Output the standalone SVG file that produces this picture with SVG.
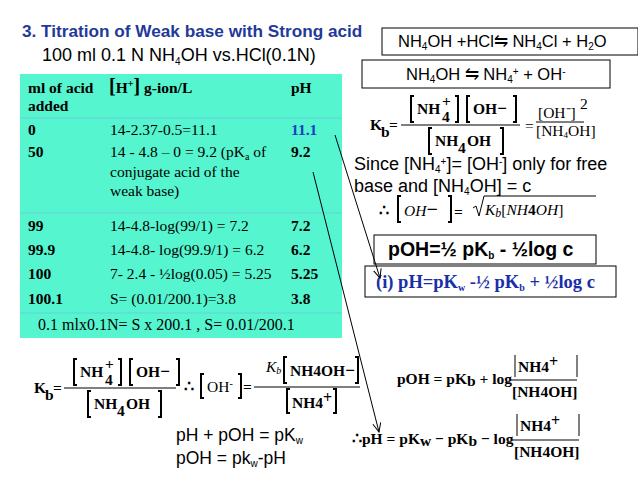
<svg xmlns="http://www.w3.org/2000/svg" width="638" height="479" viewBox="0 0 638 479">
<defs>
<marker id="ah" markerWidth="10" markerHeight="10" refX="9" refY="5" orient="auto" markerUnits="userSpaceOnUse"><path d="M0,1 L9,5 L0,9" fill="none" stroke="#000" stroke-width="1"/></marker>
</defs>
<style>
.a{font-family:"Liberation Sans",Arial,sans-serif;font-size:17px;fill:#000}
.s{font-family:"Liberation Serif","Times New Roman",serif;font-size:15.5px;fill:#000}
.b{font-weight:bold}
.box{fill:#fff;stroke:#000;stroke-width:1}
.br{fill:none;stroke:#000;stroke-width:2}
.ln{fill:none;stroke:#000;stroke-width:1}
.sub{font-size:10px}
</style>
<rect width="638" height="479" fill="#fff"/>
<g id="title">
<text x="22" y="37" class="a b" style="fill:#1f3a9a;font-size:17.2px">3. Titration of Weak base with Strong acid</text>
<text x="42" y="61" class="a" style="font-size:18px">100 ml 0.1 N NH<tspan class="sub" dy="4">4</tspan><tspan dy="-4">OH vs.HCl(0.1N)</tspan></text>
</g>
<g id="table">
<rect x="20" y="74" width="322" height="264" fill="#55f5cf"/>
<line x1="20" y1="118" x2="342" y2="118" stroke="#7ad" stroke-width="0.5"/>
<line x1="20" y1="213" x2="342" y2="213" stroke="#7ad" stroke-width="0.5"/>
<line x1="20" y1="313" x2="342" y2="313" stroke="#7ad" stroke-width="0.5"/>
<text x="28" y="93" class="s b">ml of acid</text>
<text x="28" y="111" class="s b">added</text>
<text x="109" y="93" class="s b"><tspan font-size="20">[</tspan>H<tspan class="sub" dy="-6">+</tspan><tspan dy="6" font-size="20">]</tspan>  g-ion/L</text>
<text x="291" y="93" class="s b">pH</text>
<text x="28" y="135" class="s b">0</text><text x="110" y="135" class="s">14-2.37-0.5=11.1</text><text x="291" y="135" class="s b" style="fill:#1a3fbf">11.1</text>
<text x="28" y="157" class="s b">50</text><text x="110" y="157" class="s">14 - 4.8 – 0 = 9.2 (pK<tspan class="sub" dy="3">a</tspan><tspan dy="-3"> of</tspan></text><text x="291" y="157" class="s b">9.2</text>
<text x="110" y="177" class="s">conjugate acid of the</text>
<text x="110" y="196" class="s">weak base)</text>
<text x="28" y="231" class="s b">99</text><text x="110" y="231" class="s">14-4.8-log(99/1)  = 7.2</text><text x="291" y="231" class="s b">7.2</text>
<text x="28" y="255" class="s b">99.9</text><text x="110" y="255" class="s">14-4.8- log(99.9/1) = 6.2</text><text x="291" y="255" class="s b">6.2</text>
<text x="28" y="279" class="s b">100</text><text x="110" y="279" class="s">7- 2.4 - ½log(0.05) = 5.25</text><text x="291" y="279" class="s b">5.25</text>
<text x="28" y="304" class="s b">100.1</text><text x="110" y="304" class="s">S= (0.01/200.1)=3.8</text><text x="291" y="304" class="s b">3.8</text>
<text x="38" y="330" class="s" style="font-size:16px">0.1 mlx0.1N= S x 200.1 , S= 0.01/200.1</text>
</g>
<g id="eq1">
<rect x="382" y="28" width="256" height="27" class="box"/>
<text x="398" y="47" class="a" style="font-size:16.5px">NH<tspan class="sub" dy="3">4</tspan><tspan dy="-3">OH +HCl⇋ NH</tspan><tspan class="sub" dy="3">4</tspan><tspan dy="-3">Cl + H</tspan><tspan class="sub" dy="3">2</tspan><tspan dy="-3">O</tspan></text>
</g>
<g id="eq2">
<rect x="362" y="60" width="248" height="28" class="box"/>
<text x="406" y="80" class="a" style="font-size:16.5px">NH<tspan class="sub" dy="3">4</tspan><tspan dy="-3">OH ⇋ NH</tspan><tspan class="sub" dy="3">4</tspan><tspan class="sub" dy="-8">+</tspan><tspan dy="5"> + OH</tspan><tspan class="sub" dy="-5">-</tspan></text>
</g>
<g id="kb1">
<text x="370" y="130" class="s b" font-size="15">K</text><text x="381" y="137" class="s b" font-size="11">b</text>
<text x="389" y="130" class="s b">=</text>
<path class="br" d="M414,96 h-3 v26 h3 M455,96 h3 v26 h-3 M470,96 h-3 v26 h3 M513,96 h3 v26 h-3"/>
<text x="417" y="114" class="s b" font-size="14">NH</text><text x="442" y="106" class="s b" font-size="17">+</text><text x="442" y="122" class="s b" font-size="11">4</text>
<text x="473" y="114" class="s b" font-size="14">OH<tspan font-size="17">−</tspan></text>
<line x1="401" y1="125" x2="520" y2="125" class="ln" stroke-width="1.5"/>
<path class="br" d="M432,128 h-3 v26 h3 M500,128 h3 v26 h-3"/>
<text x="435" y="146" class="s b" font-size="14">NH</text><text x="458" y="153" class="s b" font-size="11">4</text><text x="467" y="146" class="s b" font-size="14">OH</text>
<text x="525" y="131" class="s" font-size="10" fill="#555">=</text>
<text x="538" y="118" class="s" font-size="11">[OH⁻]</text><text x="580" y="109" class="s" font-size="10">2</text>
<line x1="536" y1="122" x2="584" y2="122" class="ln" stroke-width="0.6"/>
<text x="536" y="136" class="s" font-size="11">[NH<tspan font-size="9" dy="2">4</tspan><tspan dy="-2">OH]</tspan></text>
</g>
<g id="since">
<text x="354" y="170" class="a" style="font-size:18px">Since [NH<tspan class="sub" dy="3">4</tspan><tspan class="sub" dy="-8">+</tspan><tspan dy="5">]= [OH</tspan><tspan class="sub" dy="-5">-</tspan><tspan dy="5">] only for free</tspan></text>
<text x="354" y="192" class="a" style="font-size:18px">base and [NH<tspan class="sub" dy="3">4</tspan><tspan dy="-3">OH] = c</tspan></text>
<text x="379" y="216" class="s b" font-size="22">∴</text>
<path class="br" d="M401,196 h-3 v26 h3 M448,196 h3 v26 h-3"/>
<text x="404" y="216" class="s" font-style="italic" font-size="16">OH<tspan font-size="20" font-style="normal" font-weight="bold">−</tspan></text>
<text x="454" y="217" class="s b" font-size="20">=</text>
<path d="M473,208 l3,-2 l3,10 l5,-20 h112" class="ln"/>
<text x="485" y="215" class="s" font-style="italic" font-size="16">K<tspan font-size="12" dy="2">b</tspan><tspan dy="-2" font-style="normal">[</tspan>NH<tspan font-style="normal" font-weight="bold">4</tspan>OH<tspan font-style="normal">]</tspan></text>
</g>
<g id="poh">
<rect x="374" y="235" width="222" height="29" class="box"/>
<text x="388" y="256" class="a b" style="font-size:19.5px">pOH=½ pK<tspan class="sub" dy="3">b</tspan><tspan dy="-3"> - ½log c</tspan></text>
</g>
<g id="ph">
<rect x="365" y="266" width="251" height="31" class="box"/>
<text x="376" y="288" class="s b" style="fill:#1a2ea8;font-size:18.5px">(i)  pH=pK<tspan class="sub" dy="3">w</tspan><tspan dy="-3"> -½ pK</tspan><tspan class="sub" dy="3">b</tspan><tspan dy="-3"> + ½log c</tspan></text>
</g>
<g id="kb2">
<text x="34" y="393" class="s b" font-size="15">K</text><text x="45" y="400" class="s b" font-size="11">b</text>
<text x="53" y="393" class="s b">=</text>
<path class="br" d="M77,359 h-3 v26 h3 M118,359 h3 v26 h-3 M133,359 h-3 v26 h3 M176,359 h3 v26 h-3"/>
<text x="80" y="377" class="s b" font-size="14">NH</text><text x="105" y="369" class="s b" font-size="17">+</text><text x="105" y="385" class="s b" font-size="11">4</text>
<text x="136" y="377" class="s b" font-size="14">OH<tspan font-size="17">−</tspan></text>
<line x1="64" y1="388" x2="176" y2="388" class="ln" stroke-width="1.5"/>
<path class="br" d="M91,391 h-3 v26 h3 M158,391 h3 v26 h-3"/>
<text x="94" y="409" class="s b" font-size="14">NH</text><text x="117" y="416" class="s b" font-size="11">4</text><text x="126" y="409" class="s b" font-size="14">OH</text>
</g>
<g id="oh">
<text x="184" y="392" class="s b" font-size="20">∴</text>
<path class="br" d="M204,374 h-3 v24 h3 M238,374 h3 v24 h-3"/>
<text x="207" y="392" class="s" font-size="14">OH<tspan class="sub" dy="-5">-</tspan></text>
<text x="243" y="392" class="s b">=</text>
<line x1="254" y1="387" x2="360" y2="387" class="ln" stroke-width="1.5"/>
<text x="266" y="372" class="s" font-style="italic">K<tspan font-size="10" dy="2">b</tspan></text>
<path class="br" d="M287,357 h-3 v26 h3 M355,357 h3 v26 h-3"/>
<text x="290" y="376" class="s b" font-size="14">NH4OH<tspan font-size="17">−</tspan></text>
<path class="br" d="M290,389 h-3 v24 h3 M333,389 h3 v24 h-3"/>
<text x="292" y="408" class="s b" font-size="14">NH4<tspan dy="-5" font-size="16">+</tspan></text>
</g>
<g id="poh2">
<text x="397" y="384" class="s b" font-size="12">pOH = pK<tspan dy="2">b</tspan><tspan dy="-2"> + log</tspan></text>
<path class="ln" stroke-width="1.5" d="M515,355 v22 M577,355 v22"/>
<text x="518" y="372" class="s b" font-size="14">NH4<tspan dy="-5" font-size="16">+</tspan></text>
<line x1="510" y1="380" x2="577" y2="380" class="ln" stroke-width="1.5"/>
<text x="512" y="397" class="s b" font-size="14">[NH4OH]</text>
</g>
<g id="ph2">
<text x="352" y="444" class="s b" font-size="12">∴pH = pK<tspan dy="2">w</tspan><tspan dy="-2"> − pK</tspan><tspan dy="2">b</tspan><tspan dy="-2"> − log</tspan></text>
<path class="ln" stroke-width="1.5" d="M517,414 v22 M579,414 v22"/>
<text x="520" y="431" class="s b" font-size="14">NH4<tspan dy="-5" font-size="16">+</tspan></text>
<line x1="512" y1="440" x2="579" y2="440" class="ln" stroke-width="1.5"/>
<text x="514" y="457" class="s b" font-size="14">[NH4OH]</text>
</g>
<g id="pkw">
<text x="176" y="441" class="a" style="font-size:17.5px">pH  + pOH = pK<tspan class="sub" dy="3">w</tspan></text>
<text x="176" y="464" class="a" style="font-size:17.5px">pOH = pk<tspan class="sub" dy="3">w</tspan><tspan dy="-3">-pH</tspan></text>
</g>
<g id="connectors">
<line x1="335" y1="135" x2="380" y2="278" class="ln" marker-end="url(#ah)"/>
<line x1="313" y1="172" x2="379" y2="432" class="ln" marker-end="url(#ah)"/>
</g>
</svg>
